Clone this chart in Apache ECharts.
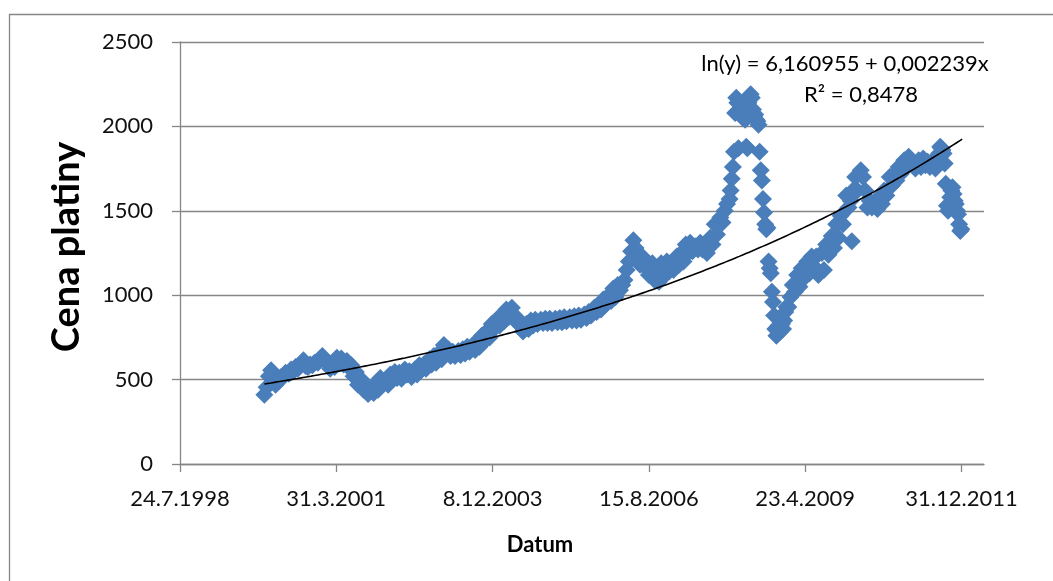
<!DOCTYPE html>
<html>
<head>
<meta charset="utf-8">
<script src="https://cdn.jsdelivr.net/npm/echarts@6/dist/echarts.min.js"></script>
<style>
  html, body { margin: 0; padding: 0; background: #fff; }
  #chart { width: 1053px; height: 581px; }
</style>
</head>
<body>
<div id="chart"></div>
<script>
// cena platiny, tydenni/ctrnactidenni odecty z grafu
const dates = [
  '2000-01-05','2000-01-19','2000-02-02','2000-02-16','2000-03-01','2000-03-15','2000-04-05','2000-04-19',
  '2000-05-03','2000-05-17','2000-06-07','2000-06-21','2000-07-05','2000-07-19','2000-08-02','2000-08-16',
  '2000-09-06','2000-09-20','2000-10-04','2000-10-18','2000-11-01','2000-11-15','2000-12-06','2000-12-20',
  '2001-01-03','2001-01-17','2001-02-07','2001-02-21','2001-03-07','2001-03-21','2001-04-04','2001-04-18',
  '2001-05-02','2001-05-16','2001-06-06','2001-06-20','2001-07-04','2001-07-18','2001-08-01','2001-08-15',
  '2001-09-05','2001-09-19','2001-10-03','2001-10-17','2001-11-07','2001-11-21','2001-12-05','2001-12-19',
  '2002-01-02','2002-01-16','2002-02-06','2002-02-20','2002-03-06','2002-03-20','2002-04-03','2002-04-17',
  '2002-05-01','2002-05-15','2002-06-05','2002-06-19','2002-07-03','2002-07-17','2002-08-07','2002-08-21',
  '2002-09-04','2002-09-18','2002-10-02','2002-10-16','2002-11-06','2002-11-20','2002-12-04','2002-12-18',
  '2003-01-08','2003-01-22','2003-02-05','2003-02-19','2003-03-05','2003-03-19','2003-04-02','2003-04-16',
  '2003-05-07','2003-05-21','2003-06-04','2003-06-18','2003-07-02','2003-07-16','2003-08-06','2003-08-20',
  '2003-09-03','2003-09-17','2003-10-01','2003-10-15','2003-11-05','2003-11-19','2003-12-03','2003-12-17',
  '2004-01-07','2004-01-21','2004-02-04','2004-02-18','2004-03-03','2004-03-17','2004-04-07','2004-04-21',
  '2004-05-05','2004-05-19','2004-06-02','2004-06-16','2004-07-07','2004-07-21','2004-08-04','2004-08-18',
  '2004-09-01','2004-09-15','2004-10-06','2004-10-20','2004-11-03','2004-11-17','2004-12-01','2004-12-15',
  '2005-01-05','2005-01-19','2005-02-02','2005-02-16','2005-03-02','2005-03-16','2005-04-06','2005-04-20',
  '2005-05-04','2005-05-18','2005-06-01','2005-06-15','2005-07-06','2005-07-20','2005-08-03','2005-08-17',
  '2005-09-07','2005-09-21','2005-10-05','2005-10-19','2005-11-02','2005-11-16','2005-12-07','2005-12-21',
  '2006-01-04','2006-01-18','2006-02-01','2006-02-15','2006-03-01','2006-03-15','2006-03-29','2006-04-12',
  '2006-04-26','2006-05-10','2006-05-24','2006-06-07','2006-06-21','2006-07-05','2006-07-19','2006-08-02',
  '2006-08-16','2006-09-06','2006-09-20','2006-10-04','2006-10-18','2006-11-01','2006-11-15','2006-12-06',
  '2006-12-20',
  '2007-01-03','2007-01-17','2007-02-07','2007-02-21','2007-03-07','2007-03-21','2007-04-04','2007-04-18',
  '2007-05-02','2007-05-16','2007-06-06','2007-06-20','2007-07-04','2007-07-18','2007-08-01','2007-08-15',
  '2007-09-05','2007-09-19','2007-10-03','2007-10-17','2007-11-07','2007-11-21','2007-12-05','2007-12-19',
  '2008-01-04','2008-01-11','2008-01-18','2008-01-25','2008-02-01','2008-02-08','2008-02-15','2008-02-22',
  '2008-02-29','2008-03-07','2008-03-14','2008-03-21','2008-03-28','2008-04-04','2008-04-11','2008-04-18',
  '2008-04-25','2008-05-02','2008-05-09','2008-05-16','2008-05-23','2008-05-30','2008-06-06','2008-06-13',
  '2008-06-20','2008-06-27','2008-07-04','2008-07-11','2008-07-18','2008-07-25','2008-08-01','2008-08-08',
  '2008-08-15','2008-08-22','2008-08-29','2008-09-05','2008-09-12','2008-09-19','2008-09-26','2008-10-03',
  '2008-10-10','2008-10-17','2008-10-24','2008-10-31','2008-11-07','2008-11-14','2008-11-21','2008-11-28',
  '2008-12-05','2008-12-12','2008-12-19','2008-12-26',
  '2009-01-07','2009-01-21','2009-02-04','2009-02-18','2009-03-04','2009-03-18','2009-04-01','2009-04-15',
  '2009-05-06','2009-05-20','2009-06-03','2009-06-17','2009-07-01','2009-07-15','2009-08-05','2009-08-19',
  '2009-09-02','2009-09-16','2009-10-07','2009-10-21','2009-11-04','2009-11-18','2009-12-02','2009-12-16',
  '2010-01-06','2010-01-20','2010-02-03','2010-02-10','2010-02-17','2010-03-03','2010-03-17','2010-04-07',
  '2010-04-21','2010-05-05','2010-05-19','2010-06-02','2010-06-16','2010-07-07','2010-07-21','2010-08-04',
  '2010-08-18','2010-09-01','2010-09-15','2010-10-06','2010-10-20','2010-11-03','2010-11-17','2010-12-01',
  '2010-12-15',
  '2011-01-05','2011-01-19','2011-02-02','2011-02-16','2011-03-02','2011-03-16','2011-04-06','2011-04-20',
  '2011-05-04','2011-05-18','2011-06-01','2011-06-15','2011-07-06','2011-07-20','2011-08-05','2011-08-12',
  '2011-08-19','2011-08-26','2011-09-02','2011-09-09','2011-09-16','2011-09-23','2011-09-30','2011-10-07',
  '2011-10-14','2011-10-21','2011-10-28','2011-11-04','2011-11-11','2011-11-18','2011-11-25','2011-12-02',
  '2011-12-09','2011-12-16','2011-12-23','2011-12-30'
]

const prices = [
  410, 455, 520, 555, 500, 470, 490, 515,
  520, 540, 535, 560, 550, 575, 565, 590,
  615, 580, 575, 590, 585, 600, 600, 625,
  640, 615, 600, 565, 590, 575, 630, 595,
  625, 590, 610, 570, 585, 520, 545, 470,
  500, 440, 460, 415, 450, 420, 480, 440,
  510, 470, 500, 470, 530, 500, 545, 510,
  540, 505, 560, 530, 550, 515, 560, 530,
  585, 560, 590, 565, 620, 590, 640, 600,
  660, 620, 705, 660, 680, 640, 665, 640,
  670, 645, 680, 655, 695, 665, 705, 675,
  725, 695, 760, 725, 790, 750, 830, 800,
  860, 820, 880, 845, 915, 870, 925, 880,
  870, 830, 820, 785, 830, 800, 850, 820,
  855, 830, 855, 835, 860, 835, 860, 835,
  860, 840, 865, 840, 870, 845, 870, 850,
  875, 850, 880, 855, 885, 865, 900, 880,
  925, 900, 940, 915, 975, 945, 1000, 965,
  1040, 990, 1060, 1030, 1060, 1090, 1150, 1200,
  1260, 1325, 1280, 1240, 1180, 1230, 1170, 1200,
  1120, 1190, 1090, 1160, 1080, 1190, 1110, 1200,
  1140,
  1190, 1150, 1230, 1180, 1250, 1200, 1300, 1250,
  1310, 1260, 1290, 1270, 1310, 1270, 1300, 1250,
  1340, 1300, 1420, 1360, 1460, 1430, 1500, 1540,
  1570, 1620, 1690, 1760, 1850, 2080, 2170, 2140,
  1870, 2130, 2100, 2080, 2050, 2080, 2040, 1880,
  1870, 2140, 2180, 2190, 2170, 2100, 2060, 2070,
  2040, 2030, 2010, 1850, 1740, 1680, 1570, 1490,
  1420, 1390, 1400, 1200, 1160, 1130, 1020, 960,
  880, 800, 760, 790, 820, 780, 800, 830,
  800, 850, 900, 930,
  930, 990, 1060, 1020, 1120, 1050, 1160, 1100,
  1200, 1130, 1230, 1170, 1230, 1120, 1250, 1150,
  1300, 1240, 1350, 1280, 1420, 1340, 1470, 1420,
  1590, 1520, 1560, 1320, 1620, 1700, 1620, 1740,
  1700, 1620, 1520, 1560, 1520, 1560, 1510, 1580,
  1540, 1620, 1590, 1700, 1650, 1720, 1680, 1760,
  1720,
  1800, 1760, 1820, 1780, 1790, 1750, 1800, 1760,
  1810, 1770, 1790, 1760, 1800, 1750, 1790, 1840,
  1880, 1870, 1860, 1840, 1780, 1660, 1530, 1500,
  1540, 1580, 1620, 1640, 1600, 1560, 1540, 1500,
  1480, 1420, 1380, 1390
]

// popisky osy x (jak je ukazuje Excel)
const tickDates = ['1998-07-24', '2001-03-31', '2003-12-08', '2006-08-15', '2009-04-23', '2011-12-31']
const xStart = '1998-07-24'
const xEnd = '2012-05-20'

// exponencialni trend z grafu: ln(y) = a + b*x, x = poradi tydne
const trendA = 6.160955
const trendB = 0.002239
const trendWeeks = 626

const DAY = 86400000
const font = 'Lato, "Open Sans", sans-serif'

const chart = echarts.init(document.getElementById('chart'))

const points = dates.map((d, i) => [Date.parse(d), prices[i]])
const t0 = Date.parse(dates[0])
const trend = []
for (let k = 0; k <= trendWeeks; k += 6) {
  trend.push([t0 + k * 7 * DAY, Math.exp(trendA + trendB * k)])
}
trend.push([t0 + trendWeeks * 7 * DAY, Math.exp(trendA + trendB * trendWeeks)])

const tickValues = tickDates.map(d => Date.parse(d))

function fmtDate(v) {
  const d = new Date(v)
  return d.getUTCDate() + '.' + (d.getUTCMonth() + 1) + '.' + d.getUTCFullYear()
}

const option = {
  animation: false,
  backgroundColor: '#fff',
  grid: { left: 180, right: 69, top: 42, bottom: 117 },
  xAxis: {
    type: 'value',
    min: Date.parse(xStart),
    max: Date.parse(xEnd),
    axisLine: { show: true, onZero: false, lineStyle: { color: '#868686', width: 1.3 } },
    axisTick: { show: true, length: 8, customValues: tickValues, lineStyle: { color: '#868686', width: 1.3 } },
    axisLabel: {
      customValues: tickValues,
      formatter: fmtDate,
      margin: 24,
      color: '#111',
      fontFamily: font,
      fontSize: 22
    },
    splitLine: { show: false }
  },
  yAxis: {
    type: 'value',
    min: 0,
    max: 2500,
    interval: 500,
    axisLine: { show: true, lineStyle: { color: '#868686', width: 1.3 } },
    axisTick: { show: true, length: 8, lineStyle: { color: '#868686', width: 1.3 } },
    axisLabel: {
      margin: 27,
      formatter: v => String(v),
      color: '#111',
      fontFamily: font,
      fontSize: 22
    },
    splitLine: { lineStyle: { color: '#868686', width: 1.3 } }
  },
  graphic: [
    {
      type: 'rect', left: 7, top: 12, silent: true,
      shape: { width: 1100, height: 700 },
      style: { fill: 'none', stroke: '#868686', lineWidth: 1.3 }
    },
    {
      type: 'text', x: 67, y: 247, rotation: Math.PI / 2,
      style: { text: 'Cena platiny', font: 'bold 38px ' + font, fill: '#000', align: 'center', verticalAlign: 'middle' }
    },
    {
      type: 'text', x: 540, y: 545,
      style: { text: 'Datum', font: 'bold 22px ' + font, fill: '#000', align: 'center', verticalAlign: 'middle' }
    },
    {
      type: 'text', x: 845, y: 64,
      style: { text: 'ln(y) = 6,160955 + 0,002239x', font: '22px ' + font, fill: '#000', align: 'center', verticalAlign: 'middle' }
    },
    {
      type: 'text', x: 861, y: 95,
      style: { text: 'R² = 0,8478', font: '22px ' + font, fill: '#000', align: 'center', verticalAlign: 'middle' }
    }
  ],
  series: [
    {
      name: 'Cena platiny',
      type: 'scatter',
      symbol: 'diamond',
      symbolSize: 18,
      itemStyle: { color: '#4A7EBB', opacity: 1 },
      data: points
    },
    {
      name: 'Trend',
      type: 'line',
      data: trend,
      showSymbol: false,
      smooth: true,
      lineStyle: { color: '#000', width: 1.6 },
      z: 3
    }
  ]
}

chart.setOption(option)
</script>
</body>
</html>
